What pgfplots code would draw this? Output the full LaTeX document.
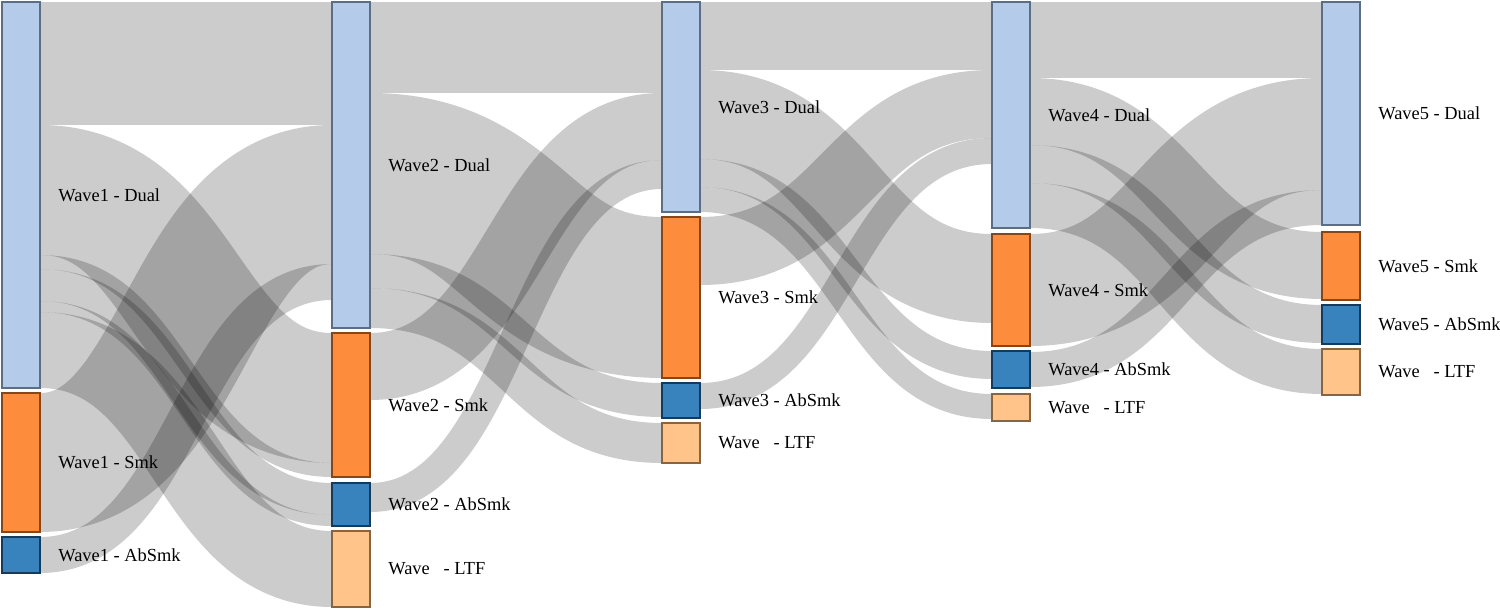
\documentclass[border=0pt]{standalone}
\usepackage{pgfplots}
\pgfplotsset{compat=1.18}
\usepackage{fontspec}
\setmainfont{Liberation Serif}

\definecolor{dualfill}{RGB}{181,203,234}
\definecolor{dualline}{RGB}{92,110,134}
\definecolor{smkfill}{RGB}{253,141,60}
\definecolor{smkline}{RGB}{134,70,24}
\definecolor{absfill}{RGB}{56,130,190}
\definecolor{absline}{RGB}{20,58,92}
\definecolor{ltffill}{RGB}{254,196,138}
\definecolor{ltfline}{RGB}{136,100,64}

% link: source x, target x, top at source, top at target, width (all in pixels)
\newcommand{\sklink}[5]{%
  \draw[draw=black, draw opacity=0.2, line width={#5*0.5pt}]
    (axis cs:#1,{#3+#5/2}) .. controls (axis cs:{(#1+#2)/2},{#3+#5/2})
    and (axis cs:{(#1+#2)/2},{#4+#5/2}) .. (axis cs:#2,{#4+#5/2});
}
% node: x0, x1, top, bottom, fill, line, label
\newcommand{\sknode}[7]{%
  \addplot[fill=#5, draw=#6, line width=1pt] coordinates {(#1,#3) (#2,#3) (#2,#4) (#1,#4)} --cycle;
  \node[anchor=west, inner sep=0pt, font=\fontsize{9.2}{10}\selectfont] at (axis cs:{#2+18},{(#3+#4)/2}) {#7};
}

\begin{document}
\begin{tikzpicture}
\begin{axis}[x=0.5pt, y=0.5pt, y dir=reverse, xmin=0, xmax=1500, ymin=0, ymax=609,
  hide axis, clip=false]
\coordinate (bl) at (rel axis cs:0,0);
\coordinate (tr) at (rel axis cs:1,1);
% wave 1 -> wave 2
\sklink{40}{332}{2}{2}{123}
\sklink{40}{332}{125}{333}{130}
\sklink{40}{332}{255}{463}{14}
\sklink{40}{332}{269}{483}{32}
\sklink{40}{332}{301}{515}{11}
\sklink{40}{332}{312}{531}{76}
\sklink{40}{332}{393}{125}{139}
\sklink{40}{332}{537}{264}{36}
% wave 2 -> wave 3
\sklink{370}{662}{2}{2}{91}
\sklink{370}{662}{93}{217}{161}
\sklink{370}{662}{254}{383}{34}
\sklink{370}{662}{288}{423}{40}
\sklink{370}{662}{333}{93}{67}
\sklink{370}{662}{483}{160}{29}
% wave 3 -> wave 4
\sklink{700}{992}{2}{2}{68}
\sklink{700}{992}{70}{234}{89}
\sklink{700}{992}{159}{351}{28}
\sklink{700}{992}{187}{394}{25}
\sklink{700}{992}{217}{70}{68}
\sklink{700}{992}{383}{138}{26}
% wave 4 -> wave 5
\sklink{1030}{1322}{2}{2}{76}
\sklink{1030}{1322}{78}{232}{67}
\sklink{1030}{1322}{145}{305}{38}
\sklink{1030}{1322}{183}{349}{45}
\sklink{1030}{1322}{234}{78}{112}
\sklink{1030}{1322}{352}{190}{35}
% nodes
\sknode{2}{40}{2}{388}{dualfill}{dualline}{Wave1 - Dual}
\sknode{2}{40}{393}{532}{smkfill}{smkline}{Wave1 - Smk}
\sknode{2}{40}{537}{573}{absfill}{absline}{Wave1 - AbSmk}
\sknode{332}{370}{2}{328}{dualfill}{dualline}{Wave2 - Dual}
\sknode{332}{370}{333}{477}{smkfill}{smkline}{Wave2 - Smk}
\sknode{332}{370}{483}{526}{absfill}{absline}{Wave2 - AbSmk}
\sknode{332}{370}{531}{607}{ltffill}{ltfline}{Wave\phantom{2} - LTF}
\sknode{662}{700}{2}{212}{dualfill}{dualline}{Wave3 - Dual}
\sknode{662}{700}{217}{378}{smkfill}{smkline}{Wave3 - Smk}
\sknode{662}{700}{383}{418}{absfill}{absline}{Wave3 - AbSmk}
\sknode{662}{700}{423}{463}{ltffill}{ltfline}{Wave\phantom{3} - LTF}
\sknode{992}{1030}{2}{228}{dualfill}{dualline}{Wave4 - Dual}
\sknode{992}{1030}{234}{346}{smkfill}{smkline}{Wave4 - Smk}
\sknode{992}{1030}{351}{388}{absfill}{absline}{Wave4 - AbSmk}
\sknode{992}{1030}{394}{421}{ltffill}{ltfline}{Wave\phantom{4} - LTF}
\sknode{1322}{1360}{2}{225}{dualfill}{dualline}{Wave5 - Dual}
\sknode{1322}{1360}{232}{300}{smkfill}{smkline}{Wave5 - Smk}
\sknode{1322}{1360}{305}{344}{absfill}{absline}{Wave5 - AbSmk}
\sknode{1322}{1360}{349}{395}{ltffill}{ltfline}{Wave\phantom{5} - LTF}
\end{axis}
\pgfresetboundingbox
\path[use as bounding box] (bl) rectangle (tr);
\end{tikzpicture}
\end{document}
